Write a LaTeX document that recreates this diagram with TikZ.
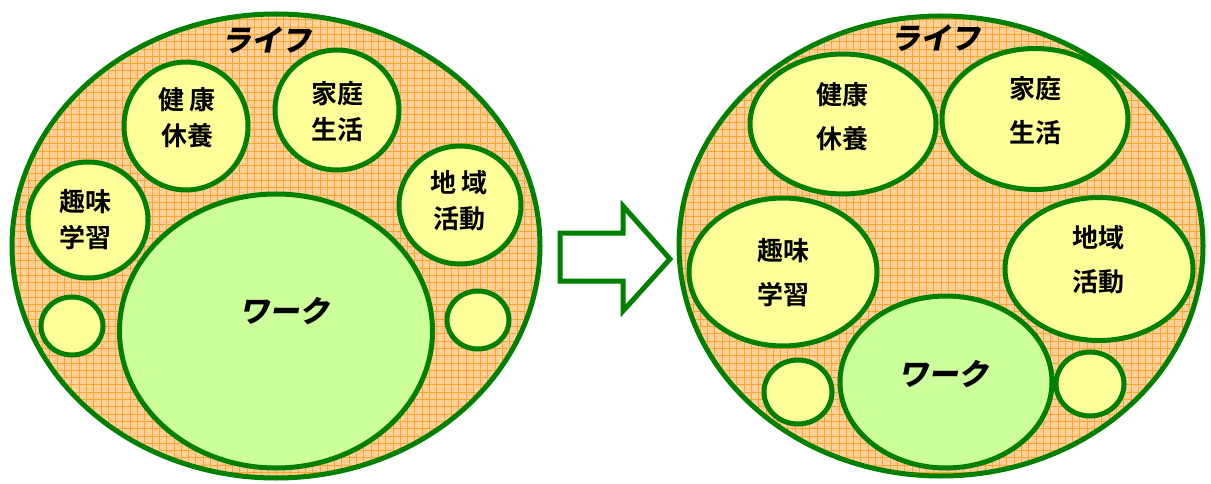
\documentclass[tikz,border=0pt]{standalone}
\usepackage{fontspec}
\usetikzlibrary{shapes.geometric}
\newfontfamily\cjk{Noto Sans CJK JP Bold}
\newfontfamily\cjkpop[FakeSlant=0.2]{Noto Sans CJK JP Black}
\definecolor{lgreen}{RGB}{0,128,0}
\definecolor{lifebg}{RGB}{253,208,155}
\definecolor{lifegrid}{RGB}{255,165,40}
\definecolor{paleyellow}{RGB}{255,255,153}
\definecolor{worklime}{RGB}{204,255,153}
\tikzset{
  lifebox/.style={ellipse, draw=lgreen, line width=5pt, fill=lifebg, inner sep=0pt,
    path picture={\draw[lifegrid, line width=0.6pt, step=7.3pt]
      (path picture bounding box.south west) grid (path picture bounding box.north east);}},
  roundbox/.style={ellipse, draw=lgreen, line width=5pt, fill=paleyellow, inner sep=0pt},
  workbox/.style={ellipse, draw=lgreen, line width=5pt, fill=worklime, inner sep=0pt},
  lefttext/.style={align=center, inner sep=0pt, font=\cjk\fontsize{26}{36}\selectfont},
  righttext/.style={align=center, inner sep=0pt, font=\cjk\fontsize{26}{44}\selectfont},
  poptext/.style={font=\cjkpop\fontsize{30}{32}\selectfont, inner sep=0pt},
  arrowline/.style={draw=lgreen, line width=5pt, fill=white, line join=miter}
}
\begin{document}
\begin{tikzpicture}[x=1pt,y=-1pt]
\useasboundingbox (0,0) rectangle (1211,484);
% ---------- left ----------
\node[lifebox, minimum width=528, minimum height=464] (lifeL) at (276,246) {};
\node[poptext] (lifeLt) at (266,40) {ライフ};
\node[roundbox, minimum width=124, minimum height=128] (kenL) at (186,126) {};
\node[lefttext] (kenLt) at (187,118) {健 康\\休養};
\node[roundbox, minimum width=124, minimum height=120] (kateiL) at (337,110) {};
\node[lefttext] (kateiLt) at (337,112) {家庭\\生活};
\node[roundbox, minimum width=122, minimum height=118] (chiikiL) at (460,205) {};
\node[lefttext] (chiikiLt) at (459,201) {地 域\\活動};
\node[roundbox, minimum width=120, minimum height=116] (shumiL) at (88,220) {};
\node[lefttext] (shumiLt) at (85,220) {趣味\\学習};
\node[roundbox, minimum width=62, minimum height=58] (smallL1) at (72,326) {};
\node[roundbox, minimum width=62, minimum height=58] (smallL2) at (478,320) {};
\node[workbox, minimum width=313, minimum height=274] (workL) at (276,331) {};
\node[poptext] (workLt) at (284,311) {ワーク};
% ---------- arrow ----------
\coordinate (a1) at (560,233);
\coordinate (a2) at (623,233);
\coordinate (a3) at (623,206);
\coordinate (a4) at (670,259);
\coordinate (a5) at (623,311);
\coordinate (a6) at (623,281);
\coordinate (a7) at (560,281);
\draw[arrowline] (a1) -- (a2) -- (a3) -- (a4) -- (a5) -- (a6) -- (a7) -- cycle;
% ---------- right ----------
\node[lifebox, minimum width=524, minimum height=460] (lifeR) at (941,246) {};
\node[poptext] (lifeRt) at (935,38) {ライフ};
\node[roundbox, minimum width=186, minimum height=140] (kenR) at (843,124) {};
\node[righttext] (kenRt) at (842,117) {健康\\休養};
\node[roundbox, minimum width=186, minimum height=141] (kateiR) at (1035,119) {};
\node[righttext] (kateiRt) at (1035,111) {家庭\\生活};
\node[roundbox, minimum width=188, minimum height=148] (shumiR) at (783,272) {};
\node[righttext] (shumiRt) at (783,273) {趣味\\学習};
\node[roundbox, minimum width=188, minimum height=143] (chiikiR) at (1099,269) {};
\node[righttext] (chiikiRt) at (1098,260) {地域\\活動};
\node[workbox, minimum width=212, minimum height=172] (workR) at (946,382) {};
\node[poptext] (workRt) at (943,374) {ワーク};
\node[roundbox, minimum width=68, minimum height=64] (smallR1) at (798,392) {};
\node[roundbox, minimum width=68, minimum height=64] (smallR2) at (1090,384) {};
\end{tikzpicture}
\end{document}
